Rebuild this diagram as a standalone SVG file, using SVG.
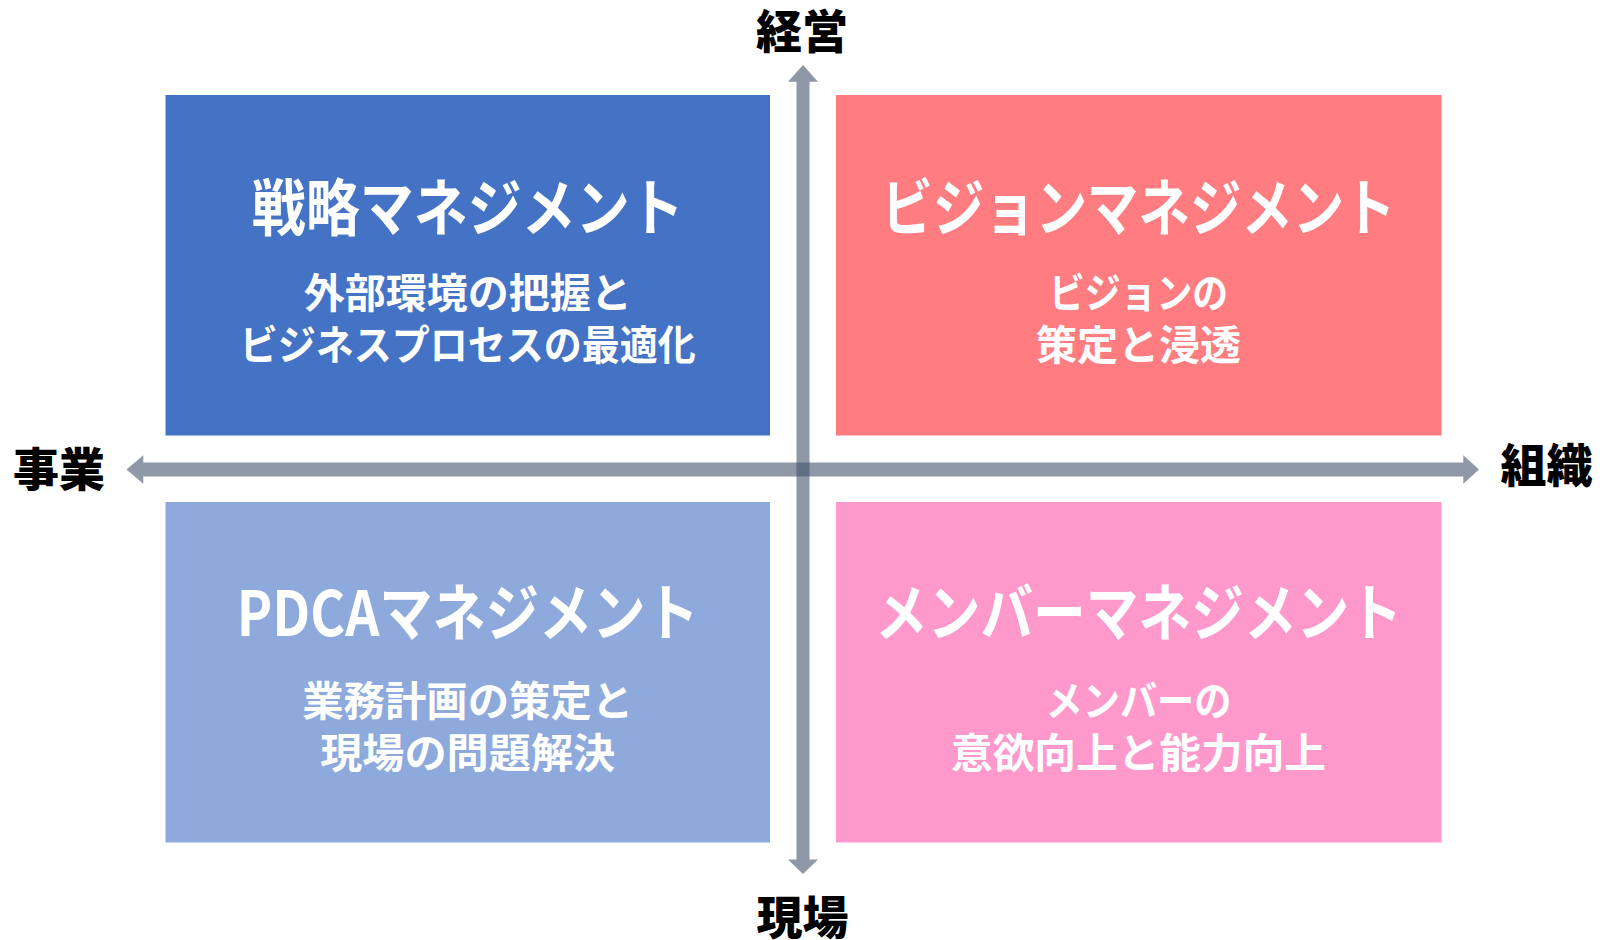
<svg xmlns="http://www.w3.org/2000/svg" width="1603" height="940" viewBox="0 0 1603 940">
<style>
text{font-family:"Noto Sans CJK JP","Noto Sans",sans-serif;font-weight:700;text-anchor:middle}
.title{font-size:62px;fill:#fff}
.sub{font-size:41px;fill:#fff}
.axis{font-size:46px;fill:#000;font-weight:900}
.arrow{fill:#44546A;fill-opacity:0.6}
</style>
<rect width="1603" height="940" fill="#fff"/>
<g id="q-strategy">
<rect x="165.5" y="95" width="604.5" height="340.5" fill="#4472C4"/>
<text class="title" x="467.7" y="231" textLength="432" lengthAdjust="spacingAndGlyphs">戦略マネジメント</text>
<text class="sub" x="467.7" y="308" textLength="328" lengthAdjust="spacingAndGlyphs">外部環境の把握と</text>
<text class="sub" x="467.7" y="360" textLength="456" lengthAdjust="spacingAndGlyphs">ビジネスプロセスの最適化</text>
</g>
<g id="q-vision">
<rect x="836" y="95" width="605.5" height="340.5" fill="#FF7C80"/>
<text class="title" x="1138.5" y="231" textLength="514" lengthAdjust="spacingAndGlyphs">ビジョンマネジメント</text>
<text class="sub" x="1138.5" y="308" textLength="179" lengthAdjust="spacingAndGlyphs">ビジョンの</text>
<text class="sub" x="1138.5" y="360" textLength="205" lengthAdjust="spacingAndGlyphs">策定と浸透</text>
</g>
<g id="q-pdca">
<rect x="165.5" y="502" width="604.5" height="340.5" fill="#8EA9DB"/>
<text class="title" x="467.7" y="636" textLength="462" lengthAdjust="spacingAndGlyphs">PDCAマネジメント</text>
<text class="sub" x="467.7" y="716" textLength="331" lengthAdjust="spacingAndGlyphs">業務計画の策定と</text>
<text class="sub" x="467.7" y="768" textLength="295" lengthAdjust="spacingAndGlyphs">現場の問題解決</text>
</g>
<g id="q-member">
<rect x="836" y="502" width="605.5" height="340.5" fill="#FF99CC"/>
<text class="title" x="1138.5" y="636" textLength="527" lengthAdjust="spacingAndGlyphs">メンバーマネジメント</text>
<text class="sub" x="1138.5" y="716" textLength="186" lengthAdjust="spacingAndGlyphs">メンバーの</text>
<text class="sub" x="1138.5" y="768" textLength="375" lengthAdjust="spacingAndGlyphs">意欲向上と能力向上</text>
</g>
<g id="connectors">
<path class="arrow" d="M126.5,469.5 L143.3,455.3 L143.3,462.5 L1463.3,462.5 L1463.3,455.3 L1479,469.5 L1463.3,483.7 L1463.3,476.5 L143.3,476.5 L143.3,483.7 Z"/>
<path class="arrow" d="M803,65 L818,81.7 L809.5,81.7 L809.5,859.5 L818,859.5 L803,874 L788,859.5 L796.5,859.5 L796.5,81.7 L788,81.7 Z"/>
</g>
<g id="labels">
<text class="axis" x="802" y="48">経営</text>
<text class="axis" x="59" y="486">事業</text>
<text class="axis" x="1546.5" y="482">組織</text>
<text class="axis" x="802.5" y="934">現場</text>
</g>
</svg>
